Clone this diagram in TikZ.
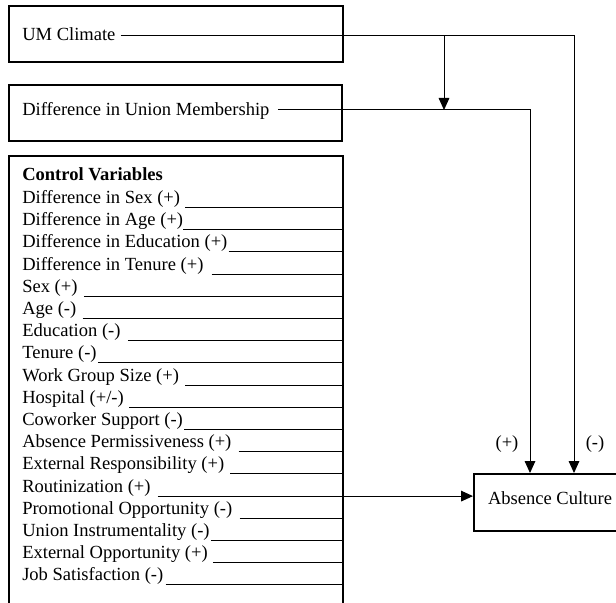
\documentclass[tikz,border=0pt]{standalone}
\usepackage{fontspec}
\setmainfont{Liberation Serif}
\usetikzlibrary{arrows.meta}
\begin{document}
\begin{tikzpicture}[x=0.75pt,y=-0.75pt]
\tikzstyle{every node}=[font=\fontsize{13.9pt}{16pt}\selectfont,inner sep=0pt]
\tikzstyle{varbox}=[draw,rectangle,line width=1.5pt,anchor=north west]
\tikzstyle{wire}=[line width=0.75pt]
\tikzstyle{arr}=[wire,-{Triangle[width=8pt,length=9pt]}]
\clip (0,0) rectangle (616,602);
\node[varbox,minimum width=250.5pt,minimum height=42pt] (umbox) at (8,5) {};
\node[varbox,minimum width=249.75pt,minimum height=42pt] (dumbox) at (8,84) {};
\node[varbox,minimum width=250.5pt,minimum height=360pt] (ctrl) at (8,155) {};
\node[varbox,anchor=west,minimum height=42.75pt,inner xsep=10.5pt,text depth=6.8pt] (culture) at (473,502.5) {Absence Culture};
\node[anchor=base west] (umtxt) at (22,40.5) {UM Climate};
\node[anchor=base west] (dumtxt) at (22,116) {Difference in Union Membership};
\node[anchor=base west,font=\fontsize{13.9pt}{16pt}\selectfont\bfseries] (cvhead) at (22,180.5) {Control Variables};
\foreach \txt/\gap [count=\i] in {Difference in Sex (+)/5,Difference in Age (+)/0,Difference in Education (+)/1,Difference in Tenure (+)/8,Sex (+)/6,Age (-)/6,Education (-)/7,Tenure (-)/1,Work Group Size (+)/6,{Hospital (+/-)}/5,Coworker Support (-)/1,Absence Permissiveness (+)/7,External Responsibility (+)/6,Routinization (+)/7,Promotional Opportunity (-)/7,Union Instrumentality (-)/1,External Opportunity (+)/5,Job Satisfaction (-)/2}
{
\node[anchor=base west] (cv\i) at (22,{203.5+(\i-1)*22.2}) {\txt};
\coordinate (u\i) at ([xshift=\gap*0.75pt,yshift=-3pt]cv\i.base east);
\draw[wire] (u\i) -- (u\i -| ctrl.east);
}
\coordinate (umturn) at (574,36);
\coordinate (dumturn) at (530,110);
\coordinate (modtop) at (444,36);
\coordinate (modtip) at (444,110);
\draw[arr] ([xshift=3.75pt]umtxt.east |- umturn) -- (umturn) -- (umturn |- culture.north);
\draw[arr] ([xshift=6pt]dumtxt.east |- dumturn) -- (dumturn) -- (dumturn |- culture.north);
\draw[arr] (modtop) -- (modtip);
\draw[arr] (u14) -- (u14 -| culture.west);
\node (pos) at (507,444) {(+)};
\node (neg) at (595,444) {(-)};
\end{tikzpicture}
\end{document}
